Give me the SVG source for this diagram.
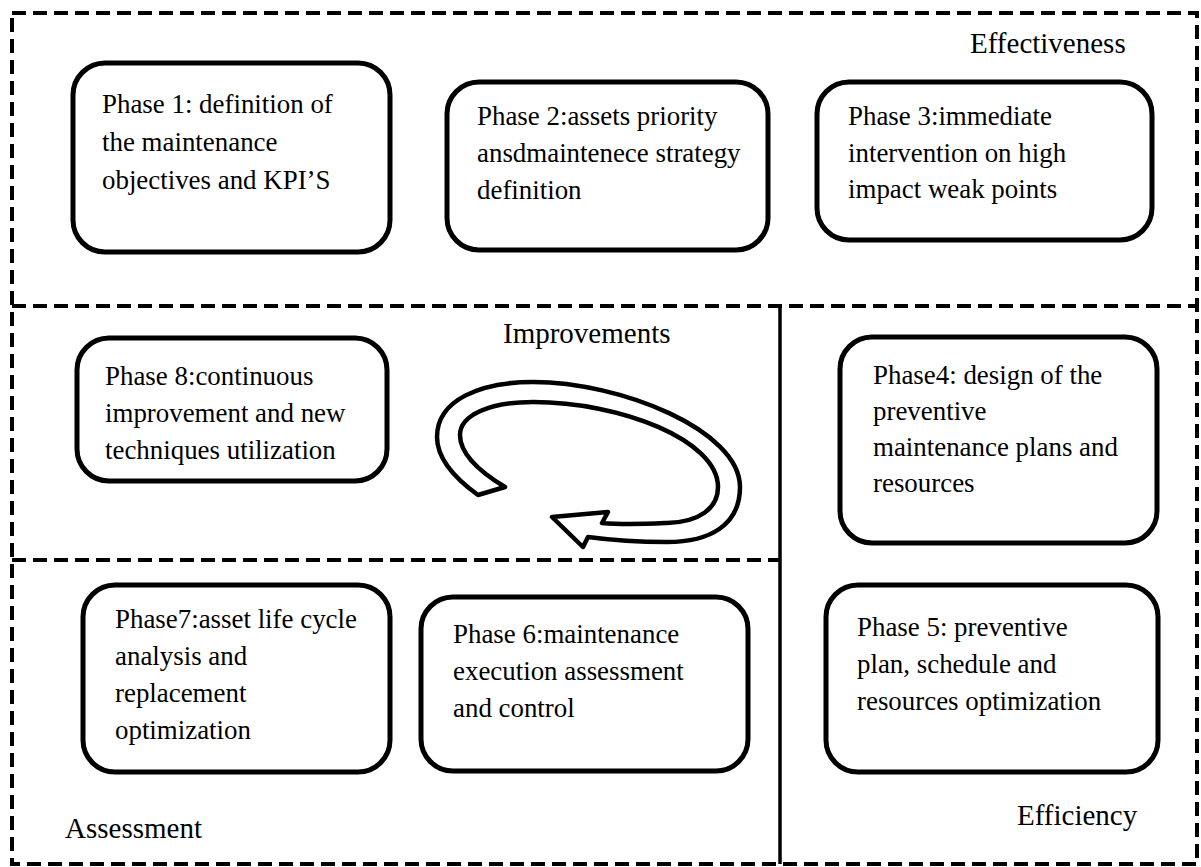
<svg xmlns="http://www.w3.org/2000/svg" width="1201" height="867" viewBox="0 0 1201 867">
  <style>
    .frame { fill: none; stroke: #000; stroke-width: 4; stroke-dasharray: 14 7; }
    .split { fill: none; stroke: #000; stroke-width: 4; stroke-dasharray: 14 7; }
    .solid { fill: none; stroke: #000; stroke-width: 3.5; }
    .box { fill: #fff; stroke: #000; stroke-width: 5; }
    .txt { font-family: "Liberation Serif", "Times New Roman", serif; font-size: 26.9px; fill: #000; }
    .lbl { font-family: "Liberation Serif", "Times New Roman", serif; font-size: 29px; fill: #000; }
    .loop { fill: #fff; stroke: #000; stroke-width: 4.5; stroke-linejoin: round; }
  </style>
  <rect width="1201" height="867" fill="#fff"/>

  <!-- zone outlines and zone titles -->
  <g id="zones">
    <rect class="frame" x="12" y="13" width="1185" height="851"/>
    <line class="split" x1="12" y1="306" x2="1197" y2="306"/>
    <line class="split" x1="12" y1="560" x2="780" y2="560"/>
    <line class="solid" x1="780" y1="306" x2="780" y2="864"/>
    <text class="lbl" x="970" y="53">Effectiveness</text>
    <text class="lbl" x="503" y="343">Improvements</text>
    <text class="lbl" x="1017" y="825">Efficiency</text>
    <text class="lbl" x="65" y="838">Assessment</text>
  </g>

  <g id="phase1">
    <rect class="box" x="73" y="63" width="317" height="189" rx="32"/>
    <text class="txt" x="102" y="113">Phase 1: definition of</text>
    <text class="txt" x="102" y="151">the maintenance</text>
    <text class="txt" x="102" y="189">objectives and KPI’S</text>
  </g>

  <g id="phase2">
    <rect class="box" x="447" y="82" width="321" height="168" rx="32"/>
    <text class="txt" x="477" y="125">Phase 2:assets priority</text>
    <text class="txt" x="477" y="162">ansdmaintenece strategy</text>
    <text class="txt" x="477" y="199">definition</text>
  </g>

  <g id="phase3">
    <rect class="box" x="817" y="82" width="335" height="158" rx="32"/>
    <text class="txt" x="848" y="125">Phase 3:immediate</text>
    <text class="txt" x="848" y="162">intervention on high</text>
    <text class="txt" x="848" y="198">impact weak points</text>
  </g>

  <g id="phase4">
    <rect class="box" x="840" y="337" width="317" height="206" rx="32"/>
    <text class="txt" x="873" y="384">Phase4: design of the</text>
    <text class="txt" x="873" y="420">preventive</text>
    <text class="txt" x="873" y="456">maintenance plans and</text>
    <text class="txt" x="873" y="492">resources</text>
  </g>

  <g id="phase5">
    <rect class="box" x="826" y="585" width="332" height="187" rx="32"/>
    <text class="txt" x="857" y="636">Phase 5: preventive</text>
    <text class="txt" x="857" y="673">plan, schedule and</text>
    <text class="txt" x="857" y="710">resources optimization</text>
  </g>

  <g id="phase6">
    <rect class="box" x="421" y="597" width="327" height="174" rx="32"/>
    <text class="txt" x="453" y="643">Phase 6:maintenance</text>
    <text class="txt" x="453" y="680">execution assessment</text>
    <text class="txt" x="453" y="717">and control</text>
  </g>

  <g id="phase7">
    <rect class="box" x="83" y="585" width="307" height="187" rx="32"/>
    <text class="txt" x="115" y="628">Phase7:asset life cycle</text>
    <text class="txt" x="115" y="665">analysis and</text>
    <text class="txt" x="115" y="702">replacement</text>
    <text class="txt" x="115" y="739">optimization</text>
  </g>

  <g id="phase8">
    <rect class="box" x="77" y="338" width="310" height="143" rx="32"/>
    <text class="txt" x="105" y="385">Phase 8:continuous</text>
    <text class="txt" x="105" y="422">improvement and new</text>
    <text class="txt" x="105" y="459">techniques utilization</text>
  </g>

  <!-- improvement loop: curved block arrow -->
  <g id="connectors">
    <path class="loop" d="M 478,495 C 460,482 437,462 437,437 C 437,400 480,382 533,382 C 620,382 740,430 740,487 C 740,525 710,542 667,542 C 640,542 610,540 588,537 L 583,547 L 552,517 L 608,512 L 602,523 C 625,525 645,524 667,523 C 700,522 718,508 718,487 C 718,440 620,402 533,402 C 490,402 460,415 460,435 C 460,455 480,472 505,487 Z"/>
  </g>
</svg>
